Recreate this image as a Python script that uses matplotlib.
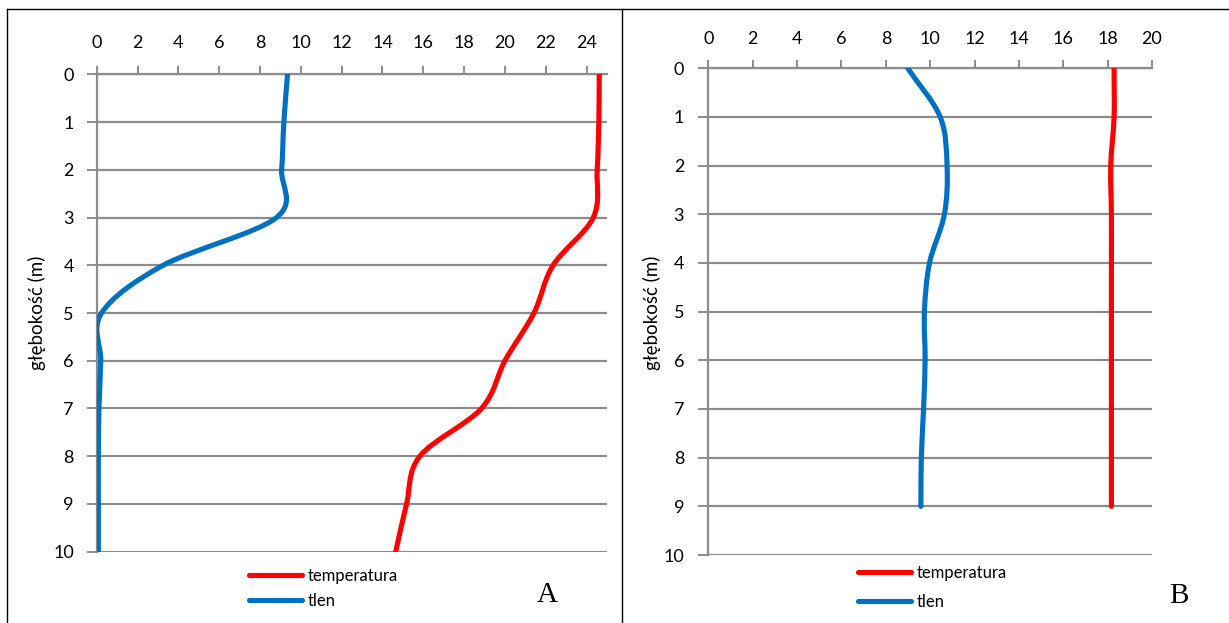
import numpy as np
import matplotlib.pyplot as plt
from matplotlib.path import Path
from matplotlib.patches import PathPatch
from matplotlib.lines import Line2D

# depth profiles
depth_a = [0, 1, 2, 3, 4, 5, 6, 7, 8, 9, 10]
temp_a = [24.62, 24.6, 24.52, 24.33, 22.36, 21.42, 20.0, 18.85, 15.83, 15.18, 14.65]
oxygen_a = [9.35, 9.17, 9.06, 8.81, 3.26, 0.24, 0.2, 0.11, 0.08, 0.08, 0.08]

depth_b = [0, 1, 2, 3, 4, 5, 6, 7, 8, 9]
temp_b = [18.29, 18.29, 18.14, 18.17, 18.17, 18.17, 18.17, 18.17, 18.17, 18.17]
oxygen_b = [8.99, 10.45, 10.76, 10.64, 9.97, 9.74, 9.77, 9.70, 9.60, 9.58]

x_ticks_a = list(range(0, 25, 2))
x_ticks_b = list(range(0, 21, 2))
y_ticks = list(range(0, 11))

RED = "#FF0000"
BLUE = "#0070C0"
GRID = "#8C8C8C"

plt.rcParams['font.family'] = ['Lato', 'DejaVu Sans']

W, H = 1229, 623
fig = plt.figure(figsize=(W / 100, H / 100), dpi=100)


def px_axes(x0, y0, x1, y1):
    # pixel box (top-left origin) -> figure fraction
    return [x0 / W, 1 - y1 / H, (x1 - x0) / W, (y1 - y0) / H]


def smooth_line(ax, xs, ys, color, label):
    # excel-like smoothed line: cubic bezier through the points
    pts = np.column_stack([xs, ys]).astype(float)
    n = len(pts)
    verts = [pts[0]]
    codes = [Path.MOVETO]
    for i in range(n - 1):
        p0 = pts[i - 1] if i > 0 else pts[i]
        p1 = pts[i]
        p2 = pts[i + 1]
        p3 = pts[i + 2] if i + 2 < n else pts[i + 1]
        t1 = (p2 - p0) / (2 if i > 0 else 1)
        t2 = (p3 - p1) / (2 if i + 2 < n else 1)
        verts += [p1 + t1 / 3, p2 - t2 / 3, p2]
        codes += [Path.CURVE4] * 3
    patch = PathPatch(Path(verts, codes), facecolor='none', edgecolor=color,
                      lw=3.7, capstyle='round', joinstyle='round', zorder=3)
    ax.add_patch(patch)
    return Line2D([], [], color=color, lw=3.7, solid_capstyle='round', label=label)


def style_axes(ax, xmax, xticks, xpad, ypad):
    ax.set_xlim(0, xmax)
    ax.set_ylim(10, 0)
    ax.set_xticks(xticks)
    ax.set_yticks(y_ticks)
    ax.xaxis.tick_top()
    for s in ['right', 'bottom']:
        ax.spines[s].set_visible(False)
    for s in ['left', 'top']:
        ax.spines[s].set_color(GRID)
        ax.spines[s].set_linewidth(1.6)
    ax.tick_params(axis='x', direction='out', length=6, width=1.4, color=GRID,
                   labelsize=13, pad=xpad)
    ax.tick_params(axis='y', direction='out', length=7, width=1.4, color=GRID,
                   labelsize=13, pad=ypad)
    ax.yaxis.grid(True, color=GRID, lw=1.6)
    ax.set_axisbelow(True)


# panel A
ax_a = fig.add_axes(px_axes(96.7, 74.3, 607, 551.7))
style_axes(ax_a, 25, x_ticks_a, 10.5, 9.5)
h_t = smooth_line(ax_a, temp_a, depth_a, RED, "temperatura")
h_o = smooth_line(ax_a, oxygen_a, depth_a, BLUE, "tlen")
fig.text(37 / W, 1 - 313 / H, "głębokość (m)", rotation=90, ha='center', va='center', fontsize=13.5)
fig.legend(handles=[h_t, h_o], loc='center left', bbox_to_anchor=(249 / W, 1 - 588.5 / H),
           frameon=False, fontsize=12, handlelength=3.2, handletextpad=0.35,
           labelspacing=0.55, borderpad=0, borderaxespad=0)
fig.text(547 / W, 1 - 595 / H, "A", ha='center', va='center', fontsize=21,
         family='Liberation Serif')

# panel B
ax_b = fig.add_axes(px_axes(708.4, 68.3, 1152, 555))
style_axes(ax_b, 20, x_ticks_b, 9.5, 10.5)
h_t = smooth_line(ax_b, temp_b, depth_b, RED, "temperatura")
h_o = smooth_line(ax_b, oxygen_b, depth_b, BLUE, "tlen")
fig.text(652 / W, 1 - 313 / H, "głębokość (m)", rotation=90, ha='center', va='center', fontsize=13.5)
fig.legend(handles=[h_t, h_o], loc='center left', bbox_to_anchor=(858 / W, 1 - 587.5 / H),
           frameon=False, fontsize=12, handlelength=3.2, handletextpad=0.35,
           labelspacing=0.8, borderpad=0, borderaxespad=0)
fig.text(1179 / W, 1 - 596 / H, "B", ha='center', va='center', fontsize=21,
         family='Liberation Serif')

# table frame around the two panels
for xs, ys in [([7, W], [8.5, 8.5]), ([7, 7], [8.5, H]), ([622.3, 622.3], [8.5, H])]:
    fig.add_artist(Line2D([x / W for x in xs], [1 - y / H for y in ys],
                          color='black', lw=1.0))

fig.savefig("out.png", dpi=100)
